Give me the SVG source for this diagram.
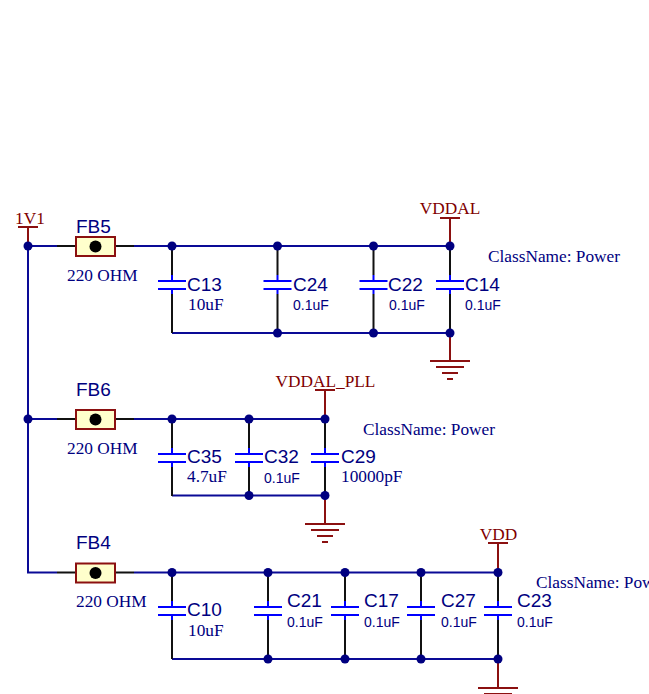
<svg xmlns="http://www.w3.org/2000/svg" width="649" height="694" viewBox="0 0 649 694">
<style>
.w{stroke:#0a0a96;stroke-width:2;fill:none}
.k{stroke:#111;stroke-width:2;fill:none}
.r{stroke:#8b1010;stroke-width:2;fill:none}
.p{stroke:#0000ff;stroke-width:2;fill:none}
.j{fill:#000080}
.n{font:19px "Liberation Sans",Arial,sans-serif;fill:#000080}
.v{font:17.300px "Liberation Serif","Times New Roman",serif;fill:#000080}
.s{font:14px "Liberation Sans",Arial,sans-serif;fill:#000080}
.o{font:17.300px "Liberation Serif","Times New Roman",serif;fill:#800000;text-anchor:middle}
.b{fill:#ffffcc;stroke:#8b1010;stroke-width:2}
</style>
<defs>
<g id="fb"><path class="k" d="M-19 0H0M39 0H58"/><rect class="b" x="0" y="-9" width="39" height="19"/><circle cx="19.500" cy="0.500" r="6" fill="#000"/></g>
<g id="cap"><path class="k" d="M0 0V29M0 48V77"/><path class="p" d="M0 29V35M0 43V48M-14 35H14M-14 43H14"/></g>
<g id="gnd"><path class="r" d="M0 0V28M-20 28H20M-14 34H14M-8 40H8M-3 46H3"/></g>
</defs>
<g id="connectors">
<path class="w" d="M57 246H28V572.500H57M134 246H450M28 419H57M134 419H325M134 572.500H498M172 333H450M172 495.500H325M172 659H498"/>
<path class="r" d="M28 227V246M18 227H38M450 218V246M440 218H460M325 390V419M315 390H335M498 543V572M488 543H508"/>
<use href="#cap" x="172" y="246"/><use href="#cap" x="277.500" y="246"/><use href="#cap" x="373.500" y="246"/><use href="#cap" x="450" y="246"/>
<use href="#cap" x="172" y="419"/><use href="#cap" x="249" y="419"/><use href="#cap" x="325" y="419"/>
<use href="#cap" x="172" y="572"/><use href="#cap" x="268" y="572"/><use href="#cap" x="345" y="572"/><use href="#cap" x="421" y="572"/><use href="#cap" x="498" y="572"/>
<path class="k" d="M172 323V333M277.500 323V333M373.500 323V333M450 323V333M172 496V485M249 496V485M325 496V485M172 649V659M268 649V659M345 649V659M421 649V659M498 649V659"/>
<use href="#gnd" x="450" y="333"/><use href="#gnd" x="325" y="496"/><use href="#gnd" x="498" y="660"/>
<g class="j">
<circle cx="28" cy="246" r="4.500"/><circle cx="28" cy="419" r="4.500"/>
<circle cx="172" cy="246" r="4.500"/><circle cx="277.500" cy="246" r="4.500"/><circle cx="373.500" cy="246" r="4.500"/><circle cx="450" cy="246" r="4.500"/>
<circle cx="277.500" cy="333" r="4.500"/><circle cx="373.500" cy="333" r="4.500"/><circle cx="450" cy="333" r="4.500"/>
<circle cx="172" cy="419" r="4.500"/><circle cx="249" cy="419" r="4.500"/><circle cx="325" cy="419" r="4.500"/>
<circle cx="249" cy="495.500" r="4.500"/><circle cx="325" cy="495.500" r="4.500"/>
<circle cx="172" cy="572.500" r="4.500"/><circle cx="268" cy="572.500" r="4.500"/><circle cx="345" cy="572.500" r="4.500"/><circle cx="421" cy="572.500" r="4.500"/><circle cx="498" cy="572.500" r="4.500"/>
<circle cx="268" cy="659" r="4.500"/><circle cx="345" cy="659" r="4.500"/><circle cx="421" cy="659" r="4.500"/><circle cx="498" cy="659" r="4.500"/>
</g>
</g>
<g id="FB5"><use href="#fb" x="76" y="246"/><text class="n" x="76" y="233">FB5</text><text class="v" x="67" y="281">220 OHM</text></g>
<g id="FB6"><use href="#fb" x="76" y="419"/><text class="n" x="76" y="396">FB6</text><text class="v" x="67" y="454">220 OHM</text></g>
<g id="FB4"><use href="#fb" x="76" y="572.500"/><text class="n" x="76" y="549">FB4</text><text class="v" x="76" y="607">220 OHM</text></g>
<g id="C13"><text class="n" x="187" y="291">C13</text><text class="v" x="188" y="310">10uF</text></g>
<g id="C24"><text class="n" x="293" y="291">C24</text><text class="s" x="293" y="310">0.1uF</text></g>
<g id="C22"><text class="n" x="388" y="291">C22</text><text class="s" x="389" y="310">0.1uF</text></g>
<g id="C14"><text class="n" x="465" y="291">C14</text><text class="s" x="465" y="310">0.1uF</text></g>
<g id="C35"><text class="n" x="187" y="463">C35</text><text class="v" x="187" y="482">4.7uF</text></g>
<g id="C32"><text class="n" x="264" y="463">C32</text><text class="s" x="264" y="483">0.1uF</text></g>
<g id="C29"><text class="n" x="341" y="463">C29</text><text class="v" x="341" y="482">10000pF</text></g>
<g id="C10"><text class="n" x="187" y="616">C10</text><text class="v" x="188" y="636">10uF</text></g>
<g id="C21"><text class="n" x="287" y="607">C21</text><text class="s" x="287" y="627">0.1uF</text></g>
<g id="C17"><text class="n" x="364" y="607">C17</text><text class="s" x="364" y="627">0.1uF</text></g>
<g id="C27"><text class="n" x="441" y="607">C27</text><text class="s" x="441" y="627">0.1uF</text></g>
<g id="C23"><text class="n" x="517" y="607">C23</text><text class="s" x="517" y="627">0.1uF</text></g>
<g id="labels">
<text class="o" x="30" y="224">1V1</text><text class="o" x="450" y="214">VDDAL</text><text class="o" x="325.500" y="387">VDDAL_PLL</text><text class="o" x="498.500" y="540">VDD</text>
<text class="v" x="488" y="262">ClassName: Power</text><text class="v" x="363" y="435">ClassName: Power</text><text class="v" x="536" y="588">ClassName: Power</text>
</g>
</svg>
